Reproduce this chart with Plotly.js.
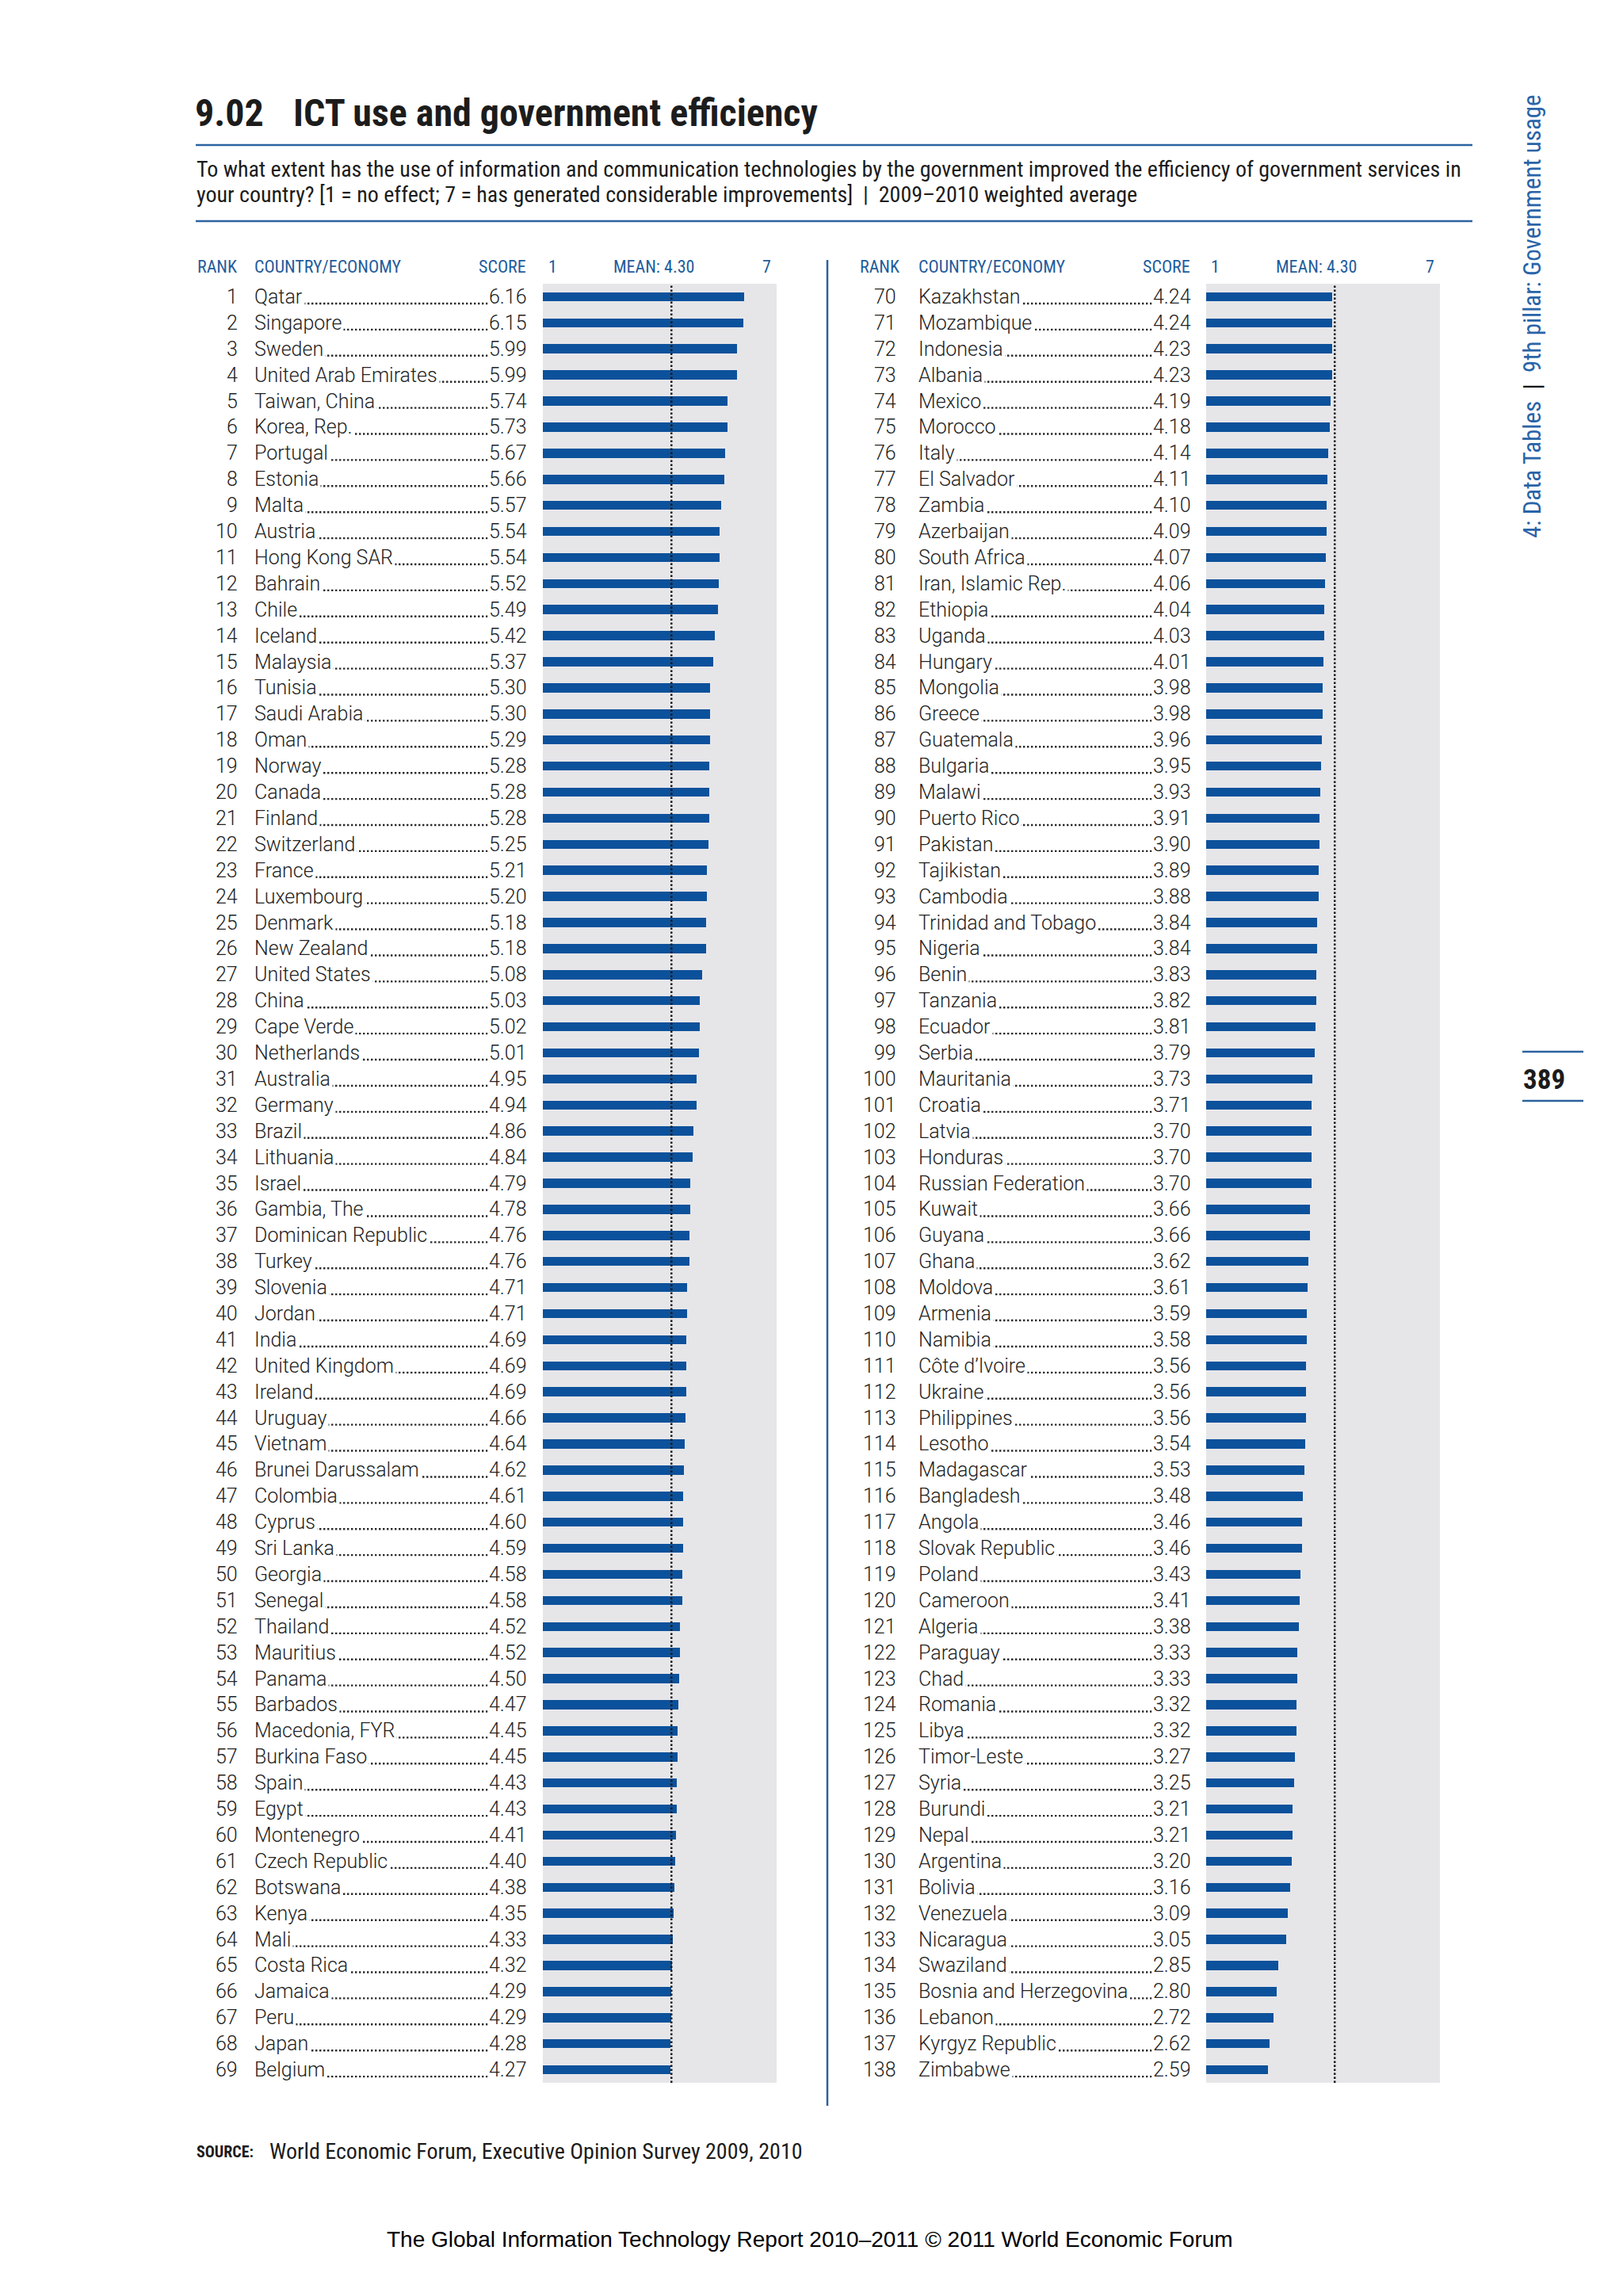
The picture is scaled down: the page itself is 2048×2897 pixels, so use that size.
<!DOCTYPE html>
<html><head><meta charset="utf-8">
<script src="https://cdn.plot.ly/plotly-3.0.1.min.js"></script>
<style>html,body{margin:0;padding:0;background:#fff}</style>
</head><body><div id="chart" style="width:2048px;height:2897px"></div>
<script>
const ranksLeft = [1,2,3,4,5,6,7,8,9,10,11,12,13,14,15,16,17,18,19,20,21,22,23,24,25,26,27,28,29,30,31,32,33,34,35,36,37,38,39,40,41,42,43,44,45,46,47,48,49,50,51,52,53,54,55,56,57,58,59,60,61,62,63,64,65,66,67,68,69];
const countriesLeft = ["Qatar","Singapore","Sweden","United Arab Emirates","Taiwan, China","Korea, Rep.","Portugal","Estonia","Malta","Austria","Hong Kong SAR","Bahrain","Chile","Iceland","Malaysia","Tunisia","Saudi Arabia","Oman","Norway","Canada","Finland","Switzerland","France","Luxembourg","Denmark","New Zealand","United States","China","Cape Verde","Netherlands","Australia","Germany","Brazil","Lithuania","Israel","Gambia, The","Dominican Republic","Turkey","Slovenia","Jordan","India","United Kingdom","Ireland","Uruguay","Vietnam","Brunei Darussalam","Colombia","Cyprus","Sri Lanka","Georgia","Senegal","Thailand","Mauritius","Panama","Barbados","Macedonia, FYR","Burkina Faso","Spain","Egypt","Montenegro","Czech Republic","Botswana","Kenya","Mali","Costa Rica","Jamaica","Peru","Japan","Belgium"];
const scoresLeft = [6.16,6.15,5.99,5.99,5.74,5.73,5.67,5.66,5.57,5.54,5.54,5.52,5.49,5.42,5.37,5.30,5.30,5.29,5.28,5.28,5.28,5.25,5.21,5.20,5.18,5.18,5.08,5.03,5.02,5.01,4.95,4.94,4.86,4.84,4.79,4.78,4.76,4.76,4.71,4.71,4.69,4.69,4.69,4.66,4.64,4.62,4.61,4.60,4.59,4.58,4.58,4.52,4.52,4.50,4.47,4.45,4.45,4.43,4.43,4.41,4.40,4.38,4.35,4.33,4.32,4.29,4.29,4.28,4.27];
const ranksRight = [70,71,72,73,74,75,76,77,78,79,80,81,82,83,84,85,86,87,88,89,90,91,92,93,94,95,96,97,98,99,100,101,102,103,104,105,106,107,108,109,110,111,112,113,114,115,116,117,118,119,120,121,122,123,124,125,126,127,128,129,130,131,132,133,134,135,136,137,138];
const countriesRight = ["Kazakhstan","Mozambique","Indonesia","Albania","Mexico","Morocco","Italy","El Salvador","Zambia","Azerbaijan","South Africa","Iran, Islamic Rep.","Ethiopia","Uganda","Hungary","Mongolia","Greece","Guatemala","Bulgaria","Malawi","Puerto Rico","Pakistan","Tajikistan","Cambodia","Trinidad and Tobago","Nigeria","Benin","Tanzania","Ecuador","Serbia","Mauritania","Croatia","Latvia","Honduras","Russian Federation","Kuwait","Guyana","Ghana","Moldova","Armenia","Namibia","Côte d’Ivoire","Ukraine","Philippines","Lesotho","Madagascar","Bangladesh","Angola","Slovak Republic","Poland","Cameroon","Algeria","Paraguay","Chad","Romania","Libya","Timor-Leste","Syria","Burundi","Nepal","Argentina","Bolivia","Venezuela","Nicaragua","Swaziland","Bosnia and Herzegovina","Lebanon","Kyrgyz Republic","Zimbabwe"];
const scoresRight = [4.24,4.24,4.23,4.23,4.19,4.18,4.14,4.11,4.10,4.09,4.07,4.06,4.04,4.03,4.01,3.98,3.98,3.96,3.95,3.93,3.91,3.90,3.89,3.88,3.84,3.84,3.83,3.82,3.81,3.79,3.73,3.71,3.70,3.70,3.70,3.66,3.66,3.62,3.61,3.59,3.58,3.56,3.56,3.56,3.54,3.53,3.48,3.46,3.46,3.43,3.41,3.38,3.33,3.33,3.32,3.32,3.27,3.25,3.21,3.21,3.20,3.16,3.09,3.05,2.85,2.80,2.72,2.62,2.59];
const meanScore = 4.30;
const scaleMin = 1, scaleMax = 7;
const headerLabels = ["RANK","COUNTRY/ECONOMY","SCORE","1","MEAN: 4.30","7"];

const W = 2048, H = 2897;
const px = v => v / W;
const py = v => 1 - v / H;
const BLUE = '#0c519b', HEAD = '#1f5c9c', RULE = '#2b62a0', TXT = '#232323';
const NARROW = '"Roboto Condensed", "Open Sans Condensed", "DejaVu Sans Condensed", sans-serif';
const BODY = 'Roboto, "Liberation Sans", sans-serif';

const panels = [
  {ranks: ranksLeft, names: countriesLeft, scores: scoresLeft, xa: 'x', ya: 'y', rankX: 302, nameX: 319, scoreX: 666, hdr: [247, 319, 666, 690, 825, 975]},
  {ranks: ranksRight, names: countriesRight, scores: scoresRight, xa: 'x2', ya: 'y2', rankX: 1133, nameX: 1157, scoreX: 1504, hdr: [1083, 1157, 1504, 1526, 1661, 1812]}
];

const traces = panels.map(p => ({
  type: 'bar', orientation: 'h', x: p.scores, y: p.ranks, xaxis: p.xa, yaxis: p.ya,
  marker: {color: BLUE}, width: 0.35, hoverinfo: 'skip', showlegend: false
}));

const shapes = [];
const annotations = [];
const rowFont = {family: BODY, size: 25, color: TXT, weight: 300};

panels.forEach(p => {
  const yref = p.ya;
  shapes.push({type: 'line', xref: p.xa, yref: yref + ' domain', x0: meanScore, x1: meanScore, y0: 0, y1: 1,
    line: {color: '#1a1a1a', width: 2.5, dash: '2.5px,2.5px'}});
  p.ranks.forEach((r, i) => {
    shapes.push({type: 'line', xref: 'paper', yref: yref, x0: px(p.nameX + 4), x1: px(p.scoreX - 4), y0: r + 0.26, y1: r + 0.26,
      line: {color: '#2a2a2a', width: 2.4, dash: '2.4px,2.6px'}});
    annotations.push({xref: 'paper', yref: yref, x: px(p.rankX), y: r, xanchor: 'right', yanchor: 'middle', showarrow: false,
      text: String(r), font: rowFont});
    annotations.push({xref: 'paper', yref: yref, x: px(p.nameX - 1), y: r, xanchor: 'left', yanchor: 'middle', showarrow: false,
      text: p.names[i], bgcolor: '#ffffff', borderpad: 2, font: rowFont});
    annotations.push({xref: 'paper', yref: yref, x: px(p.scoreX + 1), y: r, xanchor: 'right', yanchor: 'middle', showarrow: false,
      text: p.scores[i].toFixed(2), bgcolor: '#ffffff', borderpad: 1, font: rowFont});
  });
  const anchors = ['left', 'left', 'right', 'left', 'center', 'right'];
  headerLabels.forEach((t, k) => {
    annotations.push({xref: 'paper', yref: 'paper', x: px(p.hdr[k]), y: py(336), xanchor: anchors[k], yanchor: 'middle', showarrow: false,
      text: t, font: {family: NARROW, size: 22, color: HEAD}});
  });
});

shapes.push({type: 'line', xref: 'paper', yref: 'paper', x0: px(247), x1: px(1858), y0: py(183), y1: py(183), line: {color: RULE, width: 2.5}});
shapes.push({type: 'line', xref: 'paper', yref: 'paper', x0: px(247), x1: px(1858), y0: py(279), y1: py(279), line: {color: RULE, width: 2.5}});
shapes.push({type: 'line', xref: 'paper', yref: 'paper', x0: px(1044), x1: px(1044), y0: py(328), y1: py(2657), line: {color: RULE, width: 2.5}});
shapes.push({type: 'line', xref: 'paper', yref: 'paper', x0: px(1921), x1: px(1998), y0: py(1327), y1: py(1327), line: {color: RULE, width: 2.5}});
shapes.push({type: 'line', xref: 'paper', yref: 'paper', x0: px(1921), x1: px(1998), y0: py(1389), y1: py(1389), line: {color: RULE, width: 2.5}});

annotations.push({xref: 'paper', yref: 'paper', x: px(244), y: py(142), xanchor: 'left', yanchor: 'middle', showarrow: false,
  text: '9.02', font: {family: NARROW, size: 48, color: '#1c1c1c', weight: 700}});
annotations.push({xref: 'paper', yref: 'paper', x: px(368), y: py(142), xanchor: 'left', yanchor: 'middle', showarrow: false,
  text: 'ICT use and government efficiency', font: {family: NARROW, size: 48, color: '#1c1c1c', weight: 700}});
annotations.push({xref: 'paper', yref: 'paper', x: px(246), y: py(213), xanchor: 'left', yanchor: 'middle', showarrow: false,
  text: 'To what extent has the use of information and communication technologies by the government improved the efficiency of government services in',
  font: {family: NARROW, size: 28, color: '#1c1c1c'}});
annotations.push({xref: 'paper', yref: 'paper', x: px(246), y: py(245), xanchor: 'left', yanchor: 'middle', showarrow: false,
  text: 'your country? [1 = no effect; 7 = has generated considerable improvements]  |  2009–2010 weighted average',
  font: {family: NARROW, size: 28, color: '#1c1c1c'}});
annotations.push({xref: 'paper', yref: 'paper', x: px(246), y: py(2715), xanchor: 'left', yanchor: 'middle', showarrow: false,
  text: '<b>SOURCE:</b>', font: {family: NARROW, size: 20, color: '#1c1c1c'}});
annotations.push({xref: 'paper', yref: 'paper', x: px(338), y: py(2714), xanchor: 'left', yanchor: 'middle', showarrow: false,
  text: 'World Economic Forum, Executive Opinion Survey 2009, 2010', font: {family: NARROW, size: 28, color: '#1c1c1c'}});
annotations.push({xref: 'paper', yref: 'paper', x: px(1022), y: py(2825), xanchor: 'center', yanchor: 'middle', showarrow: false,
  text: 'The Global Information Technology Report 2010–2011 © 2011 World Economic Forum', font: {family: '"Liberation Sans", Arial, sans-serif', size: 28, color: '#000'}});
annotations.push({xref: 'paper', yref: 'paper', x: px(1934), y: py(399), xanchor: 'center', yanchor: 'middle', showarrow: false, textangle: -90,
  text: '4: Data Tables  <span style="color:#111">|</span>  9th pillar: Government usage', font: {family: NARROW, size: 31, color: '#2a64a8'}});
annotations.push({xref: 'paper', yref: 'paper', x: px(1920), y: py(1362), xanchor: 'left', yanchor: 'middle', showarrow: false,
  text: '389', font: {family: NARROW, size: 35, color: '#1c1c1c', weight: 700}});

const axBase = {range: [scaleMin, scaleMax], showgrid: false, zeroline: false, showticklabels: false, ticks: '', showline: false, fixedrange: true};
const yBase = {showgrid: false, zeroline: false, showticklabels: false, ticks: '', showline: false, fixedrange: true, domain: [py(2628), py(358)]};

const layout = {
  width: W, height: H, autosize: false, margin: {l: 0, r: 0, t: 0, b: 0, pad: 0},
  paper_bgcolor: '#ffffff', plot_bgcolor: '#e6e6e9', showlegend: false, bargap: 0,
  xaxis: Object.assign({}, axBase, {domain: [px(685), px(980)], anchor: 'y'}),
  xaxis2: Object.assign({}, axBase, {domain: [px(1522), px(1817)], anchor: 'y2'}),
  yaxis: Object.assign({}, yBase, {range: [69.5, 0.5], anchor: 'x'}),
  yaxis2: Object.assign({}, yBase, {range: [138.5, 69.5], anchor: 'x2'}),
  shapes: shapes, annotations: annotations
};

Plotly.newPlot('chart', traces, layout, {staticPlot: true, displayModeBar: false});
</script></body></html>
